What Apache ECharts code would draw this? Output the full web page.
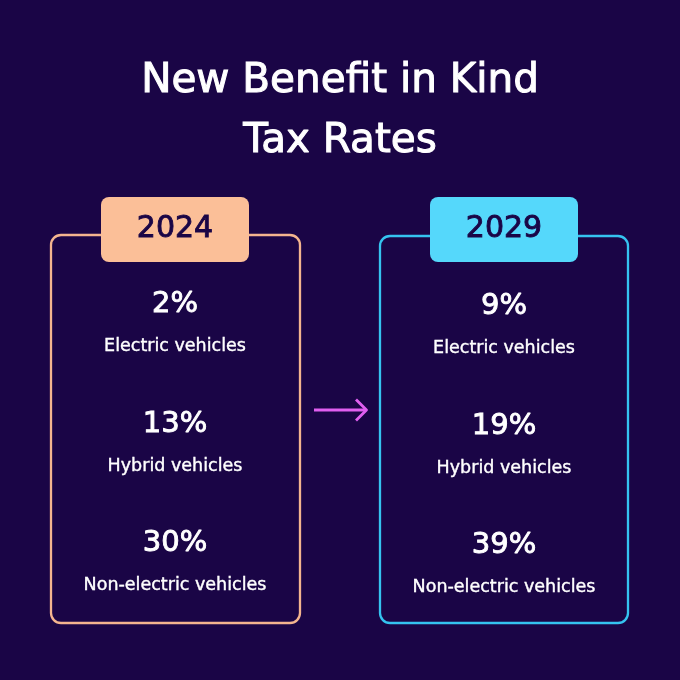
<!DOCTYPE html>
<html>
<head>
<meta charset="utf-8">
<script src="https://cdn.jsdelivr.net/npm/echarts@6/dist/echarts.min.js"></script>
<style>
  html, body { margin: 0; padding: 0; background: #1a0546; }
  #chart { width: 680px; height: 680px; }
</style>
</head>
<body>
<div id="chart"></div>
<script>
// data
const years = ['2024', '2029'];
const vehicleTypes = ['Electric vehicles', 'Hybrid vehicles', 'Non-electric vehicles'];
const rates2024 = [2, 13, 30];
const rates2029 = [9, 19, 39];

const bg = '#1a0546';
const peach = '#fbbf98';
const cyan = '#55d8fb';
const font = 'DejaVu Sans';

const chart = echarts.init(document.getElementById('chart'));

// a thin outline in the text colour makes DejaVu look closer to a medium weight
const rowLabel = {
  show: true,
  position: 'inside',
  formatter: p => `{p|${p.value[2]}%}\n{n|${p.value[1]}}`,
  rich: {
    p: { color: '#fff', fontSize: 29, fontFamily: font, lineHeight: 42, align: 'center',
         textBorderColor: '#fff', textBorderWidth: 0.9 },
    n: { color: '#fff', fontSize: 17.5, fontFamily: font, lineHeight: 42, align: 'center',
         textBorderColor: '#fff', textBorderWidth: 0.4 }
  }
};

const yearStyle = fill => ({
  width: 148, height: 65, lineHeight: 65, align: 'center', backgroundColor: fill, borderRadius: 8,
  color: '#1a0546', fontSize: 30, fontFamily: font, textBorderColor: '#1a0546', textBorderWidth: 0.9
});

const option = {
  backgroundColor: bg,
  animation: false,
  title: {
    text: 'New Benefit in Kind\nTax Rates',
    left: 'center',
    top: 51,
    padding: 0,
    textStyle: { color: '#fff', fontSize: 40.5, fontWeight: 'normal', fontFamily: font, lineHeight: 60,
                 textBorderColor: '#fff', textBorderWidth: 1 }
  },
  grid: { left: 10.5, width: 658, top: 266, height: 358.5 },
  xAxis: {
    type: 'category',
    data: years,
    position: 'top',
    z: 5,
    axisLine: { show: false },
    axisTick: { show: false },
    splitLine: { show: false },
    axisLabel: {
      margin: 4,
      formatter: v => v === '2024' ? `{a|${v}}` : `{b|${v}}`,
      rich: { a: yearStyle(peach), b: yearStyle(cyan) }
    }
  },
  yAxis: {
    type: 'category',
    data: vehicleTypes,
    inverse: true,
    show: false
  },
  graphic: [
    { type: 'rect', z: 0, shape: { x: 51, y: 235, width: 249, height: 388, r: 10 },
      style: { fill: 'none', stroke: '#f4b58f', lineWidth: 2.3 } },
    { type: 'rect', z: 0, shape: { x: 380, y: 236, width: 248, height: 387, r: 10 },
      style: { fill: 'none', stroke: '#35c3f0', lineWidth: 2.3 } },
    { type: 'polyline', z: 0, shape: { points: [[314, 410], [366, 410]] },
      style: { stroke: '#e05ff0', lineWidth: 2.8, fill: 'none' } },
    { type: 'polyline', z: 0, shape: { points: [[356, 399.5], [366.5, 410], [356, 420.5]] },
      style: { stroke: '#e05ff0', lineWidth: 2.8, fill: 'none', lineJoin: 'round' } }
  ],
  series: [
    {
      type: 'scatter',
      symbolSize: 0,
      itemStyle: { opacity: 1 },
      data: vehicleTypes.map((t, i) => [years[0], t, rates2024[i]]),
      label: rowLabel
    },
    {
      type: 'scatter',
      symbolSize: 0,
      itemStyle: { opacity: 1 },
      data: vehicleTypes.map((t, i) => [years[1], t, rates2029[i]]),
      label: Object.assign({}, rowLabel, { offset: [0, 2] })
    }
  ]
};

chart.setOption(option);
</script>
</body>
</html>
